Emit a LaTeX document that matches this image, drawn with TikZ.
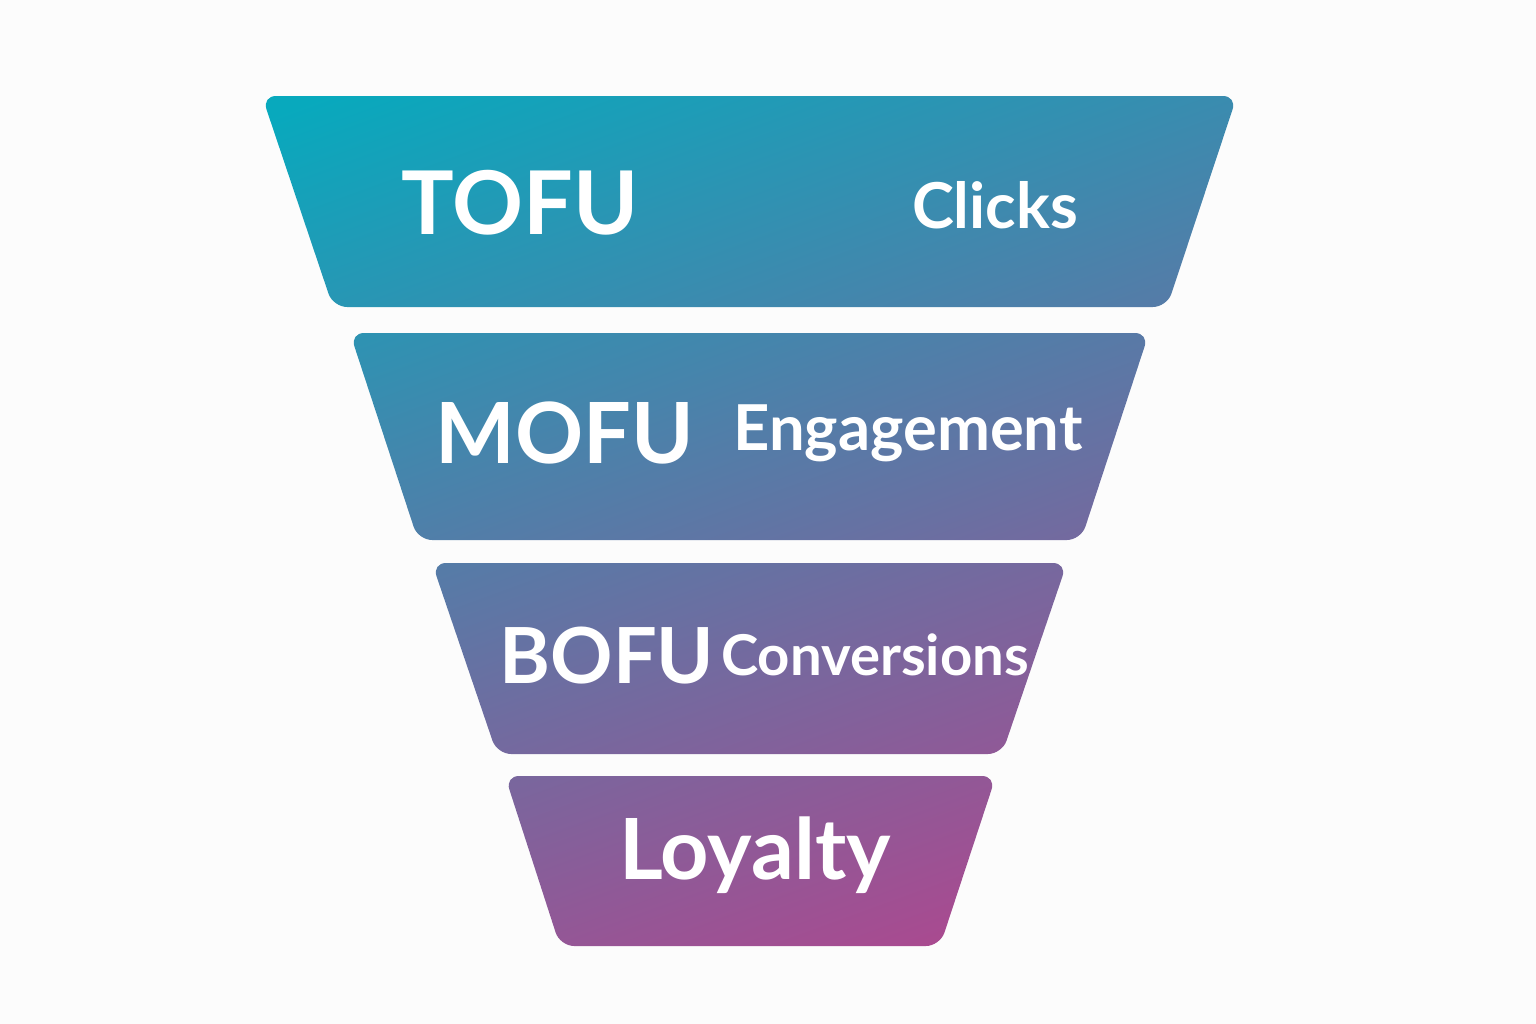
\documentclass[tikz,border=0pt]{standalone}
\usepackage{fontspec}
\setmainfont{Lato}
\definecolor{funtop}{HTML}{08A9BD}
\definecolor{funmid}{HTML}{2074A4}
\definecolor{funbot}{HTML}{B0468E}
\definecolor{bgpage}{HTML}{FCFCFC}
\tikzset{
    stage/.style={text=white,inner sep=0pt},
    metric/.style={text=white,inner sep=0pt}
}
\begin{document}
\begin{tikzpicture}[x=0.01cm,y=-0.01cm]
        \fill[bgpage] (0,0) rectangle (1536,1024);
        \useasboundingbox (0,0) rectangle (1536,1024);

        \begin{scope}
            \clip[rounded corners=4pt]
                (262,96) -- (1237,96) -- (1167,307) -- (333,307) -- cycle
                (350,333) -- (1149,333) -- (1081,540) -- (418,540) -- cycle
                (432,563) -- (1067,563) -- (1002,754) -- (497,754) -- cycle
                (505,776) -- (996,776) -- (940,946) -- (560,946) -- cycle;
            \shade[top color=funtop,middle color=funmid,bottom color=funbot,shading angle=20]
                (150,0) rectangle (1350,1000);
        \end{scope}

        \node[stage,font=\bfseries\fontsize{25}{29}\selectfont] (tofu) at (520,203) {TOFU};
        \node[metric,font=\bfseries\fontsize{18}{22}\selectfont] (clicks) at (995,205) {Clicks};
        \node[stage,font=\bfseries\fontsize{24}{28}\selectfont] (mofu) at (565,433) {MOFU};
        \node[metric,font=\bfseries\fontsize{18}{22}\selectfont] (engage) at (908,433) {Engagement};
        \node[stage,font=\bfseries\fontsize{22}{26}\selectfont] (bofu) at (607,656) {BOFU};
        \node[metric,font=\bfseries\fontsize{16}{20}\selectfont] (conv) at (875,655) {Conversions};
        \node[stage,font=\bfseries\fontsize{24}{28}\selectfont] (loyal) at (755,855) {Loyalty};
    \end{tikzpicture}
\end{document}
